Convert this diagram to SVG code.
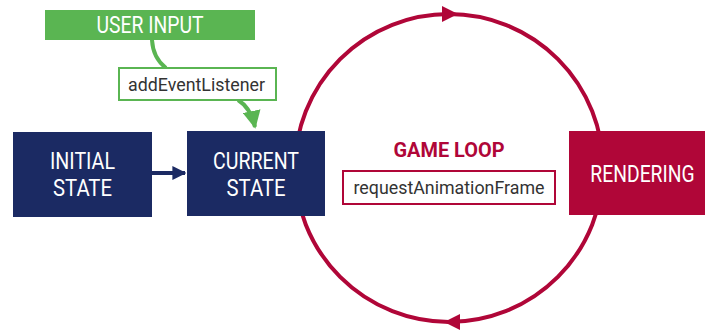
<svg xmlns="http://www.w3.org/2000/svg" width="705" height="331" viewBox="0 0 705 331">
<style>
.navy{fill:#1b2a63}
.crim{fill:#b00638}
.lbl{font-family:Roboto,"Liberation Sans",sans-serif;fill:#ffffff;font-size:23px;text-anchor:middle}
.code{font-family:Roboto,"Liberation Sans",sans-serif;fill:#333333;font-size:18px;text-anchor:middle}
.loop{fill:none;stroke:#b00638;stroke-width:4}
.gline{fill:none;stroke:#5ab552;stroke-width:4}
</style>
<defs>
<marker id="gArrow" viewBox="0 0 10 10" refX="9" refY="5" markerWidth="4.5" markerHeight="4.5" orient="auto" markerUnits="strokeWidth"><path d="M0,0 L10,5 L0,10 z" fill="#5ab552"/></marker>
<marker id="nArrow" viewBox="0 0 10 10" refX="9" refY="5" markerWidth="3.5" markerHeight="3.5" orient="auto" markerUnits="strokeWidth"><path d="M0,0 L10,5 L0,10 z" fill="#1b2a63"/></marker>
</defs>
<g id="connectors">
<circle class="loop" cx="449" cy="168" r="154"/>
<polygon points="442,6 458,14 442,22" fill="#b00638"/>
<polygon points="460,314 444,322 460,330" fill="#b00638"/>
<path class="gline" d="M152,40 Q153,58 166,68"/>
<path class="gline" d="M238,100 Q251,108 255,127" marker-end="url(#gArrow)"/>
<line x1="152" y1="173" x2="185" y2="173" stroke="#1b2a63" stroke-width="4" marker-end="url(#nArrow)"/>
</g>
<g id="user-input">
<rect x="45" y="10" width="210" height="30" fill="#5ab552"/>
<text class="lbl" x="150" y="33" textLength="107" lengthAdjust="spacingAndGlyphs">USER INPUT</text>
</g>
<g id="add-event-listener">
<rect x="119" y="68" width="157" height="32" fill="#ffffff" stroke="#5ab552" stroke-width="2"/>
<text class="code" x="196.5" y="91" textLength="137" lengthAdjust="spacingAndGlyphs">addEventListener</text>
</g>
<g id="initial-state">
<rect class="navy" x="13" y="132" width="139" height="85"/>
<text class="lbl" x="82.5" y="169" textLength="65" lengthAdjust="spacingAndGlyphs">INITIAL</text>
<text class="lbl" x="82.5" y="196" textLength="59" lengthAdjust="spacingAndGlyphs">STATE</text>
</g>
<g id="current-state">
<rect class="navy" x="187" y="131" width="138" height="85"/>
<text class="lbl" x="256" y="169" textLength="86" lengthAdjust="spacingAndGlyphs">CURRENT</text>
<text class="lbl" x="256" y="196" textLength="59" lengthAdjust="spacingAndGlyphs">STATE</text>
</g>
<g id="game-loop">
<text x="449" y="157" font-family="Roboto,'Liberation Sans',sans-serif" font-weight="bold" font-size="21" fill="#b00638" text-anchor="middle" textLength="111" lengthAdjust="spacingAndGlyphs">GAME LOOP</text>
<rect x="343" y="171" width="212" height="33" fill="#ffffff" stroke="#b00638" stroke-width="2"/>
<text class="code" x="449" y="194" textLength="191" lengthAdjust="spacingAndGlyphs">requestAnimationFrame</text>
</g>
<g id="rendering">
<rect class="crim" x="569" y="131" width="136" height="84"/>
<text class="lbl" x="0" y="0" transform="translate(642.5,182) scale(0.84,1)">RENDERING</text>
</g>
</svg>
